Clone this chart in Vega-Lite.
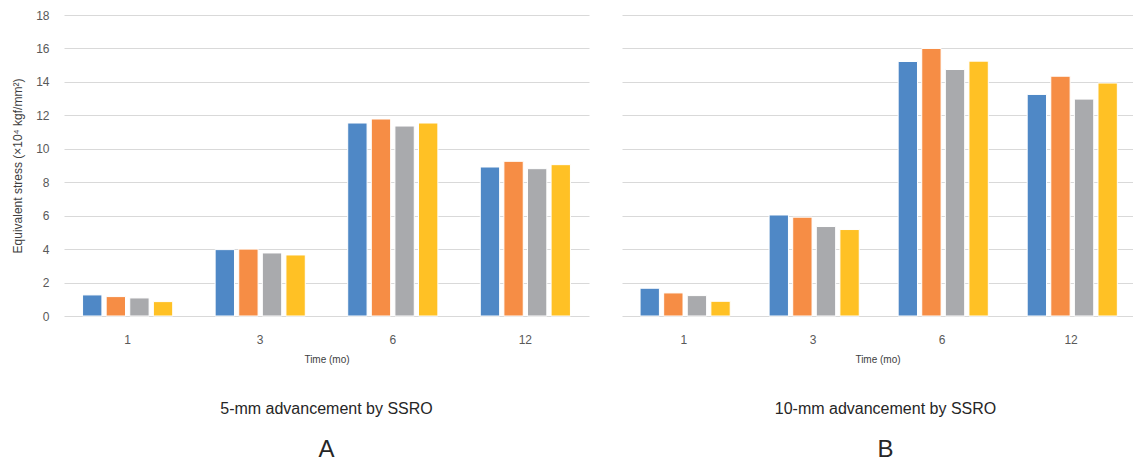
{
  "$schema": "https://vega.github.io/schema/vega-lite/v6.json",
  "background": "white",
  "padding": {"left": 11, "top": 9, "right": 0, "bottom": 0},
  "config": {
    "font": "Liberation Sans",
    "view": {"stroke": null},
    "axis": {
      "labelColor": "#595959",
      "titleColor": "#404040",
      "titleFontWeight": "normal",
      "gridColor": "#D9D9D9",
      "gridWidth": 1,
      "domain": false,
      "ticks": false,
      "tickSize": 0
    },
    "title": {"color": "#262626", "fontWeight": "normal", "subtitleColor": "#262626", "subtitleFontWeight": "normal"},
    "concat": {"spacing": 33}
  },
  "datasets": {
    "d": [
      {"panel": "A", "time": "1", "series": "S1", "value": 1.26},
      {"panel": "A", "time": "1", "series": "S2", "value": 1.16},
      {"panel": "A", "time": "1", "series": "S3", "value": 1.08},
      {"panel": "A", "time": "1", "series": "S4", "value": 0.86},
      {"panel": "A", "time": "3", "series": "S1", "value": 3.97},
      {"panel": "A", "time": "3", "series": "S2", "value": 4.0},
      {"panel": "A", "time": "3", "series": "S3", "value": 3.77},
      {"panel": "A", "time": "3", "series": "S4", "value": 3.65},
      {"panel": "A", "time": "6", "series": "S1", "value": 11.54},
      {"panel": "A", "time": "6", "series": "S2", "value": 11.78},
      {"panel": "A", "time": "6", "series": "S3", "value": 11.36},
      {"panel": "A", "time": "6", "series": "S4", "value": 11.54},
      {"panel": "A", "time": "12", "series": "S1", "value": 8.91},
      {"panel": "A", "time": "12", "series": "S2", "value": 9.25},
      {"panel": "A", "time": "12", "series": "S3", "value": 8.81},
      {"panel": "A", "time": "12", "series": "S4", "value": 9.05},
      {"panel": "B", "time": "1", "series": "S1", "value": 1.66},
      {"panel": "B", "time": "1", "series": "S2", "value": 1.38},
      {"panel": "B", "time": "1", "series": "S3", "value": 1.22},
      {"panel": "B", "time": "1", "series": "S4", "value": 0.88},
      {"panel": "B", "time": "3", "series": "S1", "value": 6.04},
      {"panel": "B", "time": "3", "series": "S2", "value": 5.91},
      {"panel": "B", "time": "3", "series": "S3", "value": 5.35},
      {"panel": "B", "time": "3", "series": "S4", "value": 5.17},
      {"panel": "B", "time": "6", "series": "S1", "value": 15.22},
      {"panel": "B", "time": "6", "series": "S2", "value": 16.0},
      {"panel": "B", "time": "6", "series": "S3", "value": 14.74},
      {"panel": "B", "time": "6", "series": "S4", "value": 15.24},
      {"panel": "B", "time": "12", "series": "S1", "value": 13.25},
      {"panel": "B", "time": "12", "series": "S2", "value": 14.34},
      {"panel": "B", "time": "12", "series": "S3", "value": 12.97},
      {"panel": "B", "time": "12", "series": "S4", "value": 13.93}
    ]
  },
  "hconcat": [
    {
      "width": 525,
      "height": 301,
      "data": {"name": "d"},
      "transform": [{"filter": "datum.panel === 'A'"}],
      "title": {
        "text": "5-mm advancement by SSRO",
        "subtitle": "A",
        "orient": "bottom",
        "anchor": "middle",
        "fontSize": 16,
        "subtitleFontSize": 24,
        "offset": 37,
        "subtitlePadding": 21
      },
      "mark": {"type": "bar", "stroke": "white", "strokeWidth": 1},
      "encoding": {
        "x": {
          "field": "time", "type": "nominal", "sort": ["1", "3", "6", "12"],
          "scale": {"paddingInner": 0.32, "paddingOuter": 0.14},
          "axis": {"labelAngle": 0, "title": "Time (mo)", "labelFontSize": 12, "titleFontSize": 10, "labelPadding": 18, "titlePadding": 9, "grid": false}
        },
        "xOffset": {"field": "series", "type": "nominal", "scale": {"paddingInner": 0.18}},
        "y": {
          "field": "value", "type": "quantitative",
          "scale": {"domain": [0, 18]},
          "axis": {"values": [0, 2, 4, 6, 8, 10, 12, 14, 16, 18], "title": "Equivalent stress (×10⁴ kgf/mm²)", "titleFontSize": 12, "labelFontSize": 12, "labelPadding": 15, "titlePadding": 11}
        },
        "color": {
          "field": "series", "type": "nominal",
          "scale": {"domain": ["S1", "S2", "S3", "S4"], "range": ["#4F88C6", "#F68D45", "#A9AAAD", "#FFC125"]},
          "legend": null
        }
      }
    },
    {
      "width": 511,
      "height": 301,
      "data": {"name": "d"},
      "transform": [{"filter": "datum.panel === 'B'"}],
      "title": {
        "text": "10-mm advancement by SSRO",
        "subtitle": "B",
        "orient": "bottom",
        "anchor": "middle",
        "fontSize": 16,
        "subtitleFontSize": 24,
        "offset": 37,
        "subtitlePadding": 21,
        "dx": 8
      },
      "mark": {"type": "bar", "stroke": "white", "strokeWidth": 1},
      "encoding": {
        "x": {
          "field": "time", "type": "nominal", "sort": ["1", "3", "6", "12"],
          "scale": {"paddingInner": 0.32, "paddingOuter": 0.14},
          "axis": {"labelAngle": 0, "title": "Time (mo)", "labelFontSize": 12, "titleFontSize": 10, "labelPadding": 18, "titlePadding": 9, "grid": false}
        },
        "xOffset": {"field": "series", "type": "nominal", "scale": {"paddingInner": 0.18}},
        "y": {
          "field": "value", "type": "quantitative",
          "scale": {"domain": [0, 18]},
          "axis": {"values": [0, 2, 4, 6, 8, 10, 12, 14, 16, 18], "labels": false, "title": null}
        },
        "color": {
          "field": "series", "type": "nominal",
          "scale": {"domain": ["S1", "S2", "S3", "S4"], "range": ["#4F88C6", "#F68D45", "#A9AAAD", "#FFC125"]},
          "legend": null
        }
      }
    }
  ]
}
